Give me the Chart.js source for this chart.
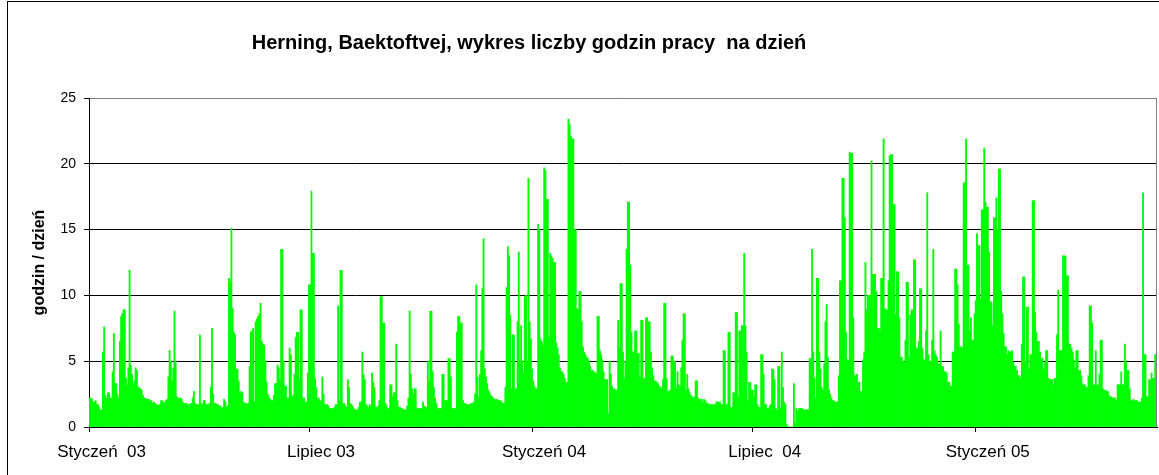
<!DOCTYPE html>
<html>
<head>
<meta charset="utf-8">
<script src="https://cdn.jsdelivr.net/npm/chart.js@4.4.1/dist/chart.umd.min.js"></script>
<style>
  html, body { margin: 0; padding: 0; background: #fff; }
  #wrap { width: 1159px; height: 475px; }
</style>
</head>
<body>
<div id="wrap"><canvas id="hoursChart" width="1159" height="475"></canvas></div>
<script>
// daily working hours, one value per day starting 1 Jan 2003
const hours = [
  2.2,2.2,2.1,1.9,1.9,2.0,1.7,1.7,1.5,1.3,
  1.3,5.7,7.6,2.4,2.2,2.6,2.6,2.2,2.2,4.2,
  7.1,3.3,3.3,2.5,2.2,6.5,8.4,8.6,8.9,8.9,
  3.7,3.2,4.5,11.9,4.7,4.0,3.2,3.5,4.5,4.3,
  3.0,3.0,2.9,2.8,2.4,2.2,2.2,2.1,2.1,2.1,
  2.0,2.0,1.8,1.9,1.8,1.7,1.7,1.6,1.7,2.0,
  2.0,1.8,1.9,2.0,2.1,3.8,5.8,5.0,3.5,4.5,
  8.8,5.0,2.3,2.2,2.2,2.2,2.1,1.9,1.8,1.8,
  1.8,1.7,1.7,1.7,1.8,2.2,2.7,1.8,1.7,1.7,
  1.7,7.0,1.8,1.7,2.0,2.0,1.7,1.7,1.7,1.8,
  3.0,7.5,2.5,1.8,1.8,1.7,1.7,1.6,1.6,1.4,
  1.5,2.1,1.9,1.5,1.6,11.3,11.0,15.1,9.0,7.2,
  7.0,4.4,4.4,3.5,2.6,2.7,2.6,1.9,1.8,1.8,
  1.7,1.8,4.6,7.2,7.3,7.5,1.9,8.0,8.2,8.4,
  8.6,9.4,6.5,6.3,6.2,5.0,3.4,2.5,2.3,2.1,
  2.0,2.0,2.4,3.3,3.3,4.7,4.5,3.6,13.5,13.5,
  5.0,3.1,3.1,2.2,2.2,6.0,5.5,2.3,2.4,4.0,
  6.8,7.2,7.2,3.6,8.9,8.9,2.2,2.2,1.9,1.9,
  4.1,10.8,10.8,17.9,13.2,13.2,3.7,3.0,2.2,2.2,
  2.0,2.0,3.8,2.5,1.7,1.7,1.7,1.6,1.4,1.4,
  1.4,1.4,1.5,1.7,1.7,9.2,2.0,11.9,11.9,1.8,
  1.8,1.6,1.5,3.6,3.0,1.8,1.7,1.6,1.4,1.3,
  1.3,1.3,1.5,1.9,1.9,5.7,4.0,3.6,1.7,1.6,
  1.5,1.7,1.6,4.1,3.4,3.0,1.5,1.5,1.6,2.0,
  9.9,9.9,7.9,7.9,1.8,1.6,1.4,1.4,3.2,3.2,
  2.3,2.6,2.6,6.3,2.0,1.5,1.5,1.4,1.4,1.3,
  1.3,1.3,1.6,2.2,8.8,4.0,2.9,2.5,2.9,2.9,
  1.4,1.4,1.4,1.4,1.4,1.9,1.6,1.5,1.5,5.0,
  3.5,8.8,8.8,4.2,3.0,2.2,1.8,1.4,1.4,1.4,
  1.4,4.0,4.0,2.0,2.0,2.0,5.2,5.2,3.8,1.4,
  1.4,1.4,1.4,7.2,8.4,8.4,7.9,7.9,2.0,1.8,
  1.8,1.7,1.7,1.7,1.7,1.8,1.8,1.9,2.5,10.8,
  3.8,2.3,4.0,5.8,10.5,14.3,4.4,3.8,3.3,2.8,
  2.6,2.4,2.3,2.2,2.1,2.1,2.1,2.0,2.0,2.0,
  1.9,1.8,1.8,3.0,10.6,13.7,13.0,8.5,2.9,7.0,
  7.0,2.9,2.9,8.0,13.3,5.0,7.7,5.0,4.2,9.9,
  10.0,5.0,18.9,8.0,6.7,4.4,3.5,3.1,2.9,2.9,
  15.4,15.0,6.7,6.5,6.2,19.7,19.5,17.3,17.3,6.8,
  13.2,13.0,12.8,12.5,12.5,6.4,6.0,5.5,4.5,4.2,
  4.2,4.0,3.7,3.4,3.4,23.4,23.0,22.1,21.9,21.9,
  15.0,15.0,9.0,8.9,10.3,10.3,8.0,6.1,5.7,5.5,
  5.3,5.2,5.0,4.6,4.3,4.3,4.2,4.1,4.1,8.4,
  8.4,5.8,5.5,5.1,4.2,3.6,3.6,3.6,1.0,5.0,
  4.0,3.1,2.9,2.9,2.8,2.8,8.1,6.0,10.9,10.9,
  5.7,3.7,5.0,13.5,17.1,17.1,12.3,7.2,5.7,5.7,
  7.3,7.3,5.6,5.6,3.8,8.1,8.1,3.7,3.7,8.3,
  8.3,8.0,8.0,5.7,4.5,3.9,3.5,3.5,3.4,3.3,
  3.1,3.0,2.9,3.6,9.4,9.4,3.7,2.7,2.7,2.8,
  5.4,5.4,5.0,5.0,2.9,4.2,3.2,3.1,4.5,6.6,
  8.6,8.6,2.8,4.0,2.9,2.6,2.4,2.3,2.2,2.3,
  3.5,3.5,2.2,2.1,2.1,2.1,1.9,2.1,2.0,1.8,
  1.8,1.7,1.7,1.7,1.7,1.7,1.7,1.9,1.9,1.9,
  1.9,1.7,1.7,5.8,5.8,1.7,1.7,7.2,7.2,1.5,
  1.5,2.6,2.6,8.7,8.7,2.3,7.3,7.3,7.7,7.7,
  13.2,7.7,5.7,2.0,3.4,3.4,2.8,2.8,2.3,3.2,
  3.2,1.7,1.5,1.5,5.5,5.5,4.0,1.7,1.7,1.4,
  1.4,1.6,1.7,4.4,4.4,3.6,1.4,1.3,4.6,4.6,
  1.5,5.7,3.0,1.9,1.7,0.2,0,0,0,0,
  0,3.3,0.3,1.4,1.2,1.4,1.4,1.4,1.4,1.3,
  1.3,1.3,1.3,1.3,5.2,5.2,13.5,5.7,3.7,2.2,
  11.3,11.3,5.7,4.4,3.0,2.8,4.8,8.0,9.3,5.3,
  2.8,2.5,2.2,2.0,2.0,1.9,1.9,1.9,3.9,11.1,
  11.1,18.9,18.9,15.9,7.2,5.1,5.1,20.9,20.8,20.8,
  8.3,3.9,3.9,4.0,3.4,3.4,2.7,2.7,5.1,5.7,
  12.5,8.9,10.0,10.0,10.0,20.2,11.6,11.6,11.6,10.3,
  7.5,7.5,7.4,11.3,11.3,21.9,9.0,8.9,8.9,11.1,
  20.6,20.7,20.7,16.9,16.9,8.6,11.8,11.8,8.3,5.3,
  5.3,5.0,4.9,6.6,11.0,11.0,5.3,8.5,8.9,8.9,
  12.7,12.7,6.0,6.0,6.5,10.5,10.5,6.0,5.1,5.1,
  7.3,17.8,5.5,5.0,5.0,6.6,13.5,5.8,5.5,5.3,
  4.8,4.8,7.3,4.6,4.6,4.2,4.2,4.1,3.4,3.4,
  3.1,3.1,5.7,5.7,12.0,12.0,10.8,7.8,6.1,6.1,
  6.0,18.5,18.6,21.9,12.3,12.3,7.3,8.3,6.6,6.6,
  8.6,9.6,14.7,13.8,13.8,9.7,16.5,16.5,21.2,17.1,
  16.7,16.7,13.3,9.5,9.5,7.7,15.9,15.9,17.4,15.0,
  19.6,19.6,10.3,8.6,7.1,6.1,6.1,5.5,5.8,5.7,
  5.7,5.8,4.9,4.6,4.6,4.3,3.9,3.9,3.7,6.3,
  11.4,11.4,5.0,9.1,9.1,4.4,5.5,5.5,17.2,17.2,
  8.7,7.2,6.5,6.5,5.7,5.2,5.2,4.4,4.9,5.8,
  5.8,3.7,3.6,3.6,3.6,3.2,3.7,3.7,7.0,10.4,
  5.8,5.8,5.8,13.0,13.0,13.0,11.5,11.5,6.3,6.3,
  6.0,5.7,5.1,4.5,5.8,5.8,4.3,4.3,3.9,3.3,
  3.2,3.2,3.0,3.0,3.9,9.2,9.2,7.9,3.2,3.2,
  5.8,3.2,3.2,4.0,6.6,6.6,2.9,2.8,2.8,2.7,
  2.7,2.4,2.3,2.3,2.2,2.2,2.2,2.0,3.2,3.2,
  3.2,4.2,3.2,3.2,6.3,4.9,4.3,4.3,2.9,2.0,
  2.0,2.1,2.0,2.0,2.0,1.9,1.9,1.9,2.2,17.8,
  5.5,5.5,2.3,2.3,3.6,3.6,4.1,3.7,3.7,5.5,
  5.5
];

// one category per day
const startDay = Date.UTC(2003, 0, 1);
const days = hours.map((h, i) => new Date(startDay + i * 86400000).toISOString().slice(0, 10));

// x axis ticks (month starts) and their labels
const tickDates = ['2003-01-01', '2003-07-01', '2004-01-01', '2004-07-01', '2005-01-01'];
const tickLabels = ['Styczeń  03', 'Lipiec 03', 'Styczeń 04', 'Lipiec  04', 'Styczeń 05'];

const yTicks = [0, 5, 10, 15, 20, 25];

const titleText = 'Herning, Baektoftvej, wykres liczby godzin pracy  na dzień';

Chart.defaults.font.family = "Arial, 'Liberation Sans', sans-serif";
Chart.defaults.color = '#000';

// frame, chart title and plot border
const decor = {
  id: 'decor',
  beforeDraw(chart) {
    const ctx = chart.ctx;
    ctx.save();
    ctx.fillStyle = '#fff';
    ctx.fillRect(0, 0, chart.width, chart.height);
    ctx.strokeStyle = '#000';
    ctx.lineWidth = 1;
    ctx.strokeRect(7.5, 1.5, chart.width + 20, chart.height + 20);
    ctx.restore();
  },
  afterDraw(chart) {
    const ctx = chart.ctx;
    const a = chart.chartArea;
    ctx.save();
    ctx.strokeStyle = '#808080';
    ctx.lineWidth = 1;
    ctx.beginPath();
    ctx.moveTo(Math.round(a.right) - 0.5, a.top);
    ctx.lineTo(Math.round(a.right) - 0.5, a.bottom);
    ctx.stroke();
    ctx.fillStyle = '#000';
    ctx.font = "bold 20px Arial, 'Liberation Sans', sans-serif";
    ctx.textAlign = 'center';
    ctx.textBaseline = 'middle';
    ctx.fillText(titleText, 529, 43);
    ctx.restore();
  }
};

const ctx = document.getElementById('hoursChart');
new Chart(ctx, {
  type: 'bar',
  data: {
    labels: days,
    datasets: [{
      label: 'godzin / dzień',
      data: hours,
      backgroundColor: '#00ff00',
      borderWidth: 0,
      barPercentage: 1,
      categoryPercentage: 1
    }]
  },
  options: {
    responsive: false,
    animation: false,
    layout: { padding: { top: 98, right: 2, left: 0, bottom: 0 } },
    plugins: {
      legend: { display: false },
      tooltip: { enabled: false }
    },
    scales: {
      x: {
        offset: true,
        afterFit(scale) { scale.height = 48; },
        afterBuildTicks(axis) {
          axis.ticks = tickDates.map(d => ({ value: days.indexOf(d) }));
        },
        grid: {
          offset: false,
          drawOnChartArea: false,
          tickLength: 5,
          tickColor: '#000'
        },
        border: { color: '#000', width: 1 },
        ticks: {
          autoSkip: false,
          maxRotation: 0,
          padding: 10,
          labelOffset: 12,
          font: { size: 17 },
          callback: (value, index) => tickLabels[index]
        }
      },
      y: {
        min: 0,
        max: 25,
        afterFit(scale) { scale.width = 89; },
        afterBuildTicks(axis) {
          axis.ticks = yTicks.map(v => ({ value: v }));
        },
        grid: {
          color: c => (c.tick && c.tick.value === 25 ? '#808080' : '#000'),
          tickLength: 5,
          tickColor: '#000'
        },
        border: { color: '#000', width: 1 },
        ticks: {
          padding: 8,
          font: { size: 14 }
        },
        title: {
          display: true,
          text: 'godzin / dzień',
          font: { size: 16, weight: 'bold' },
          padding: { top: 30, bottom: 0 }
        }
      }
    }
  },
  plugins: [decor]
});
</script>
</body>
</html>
